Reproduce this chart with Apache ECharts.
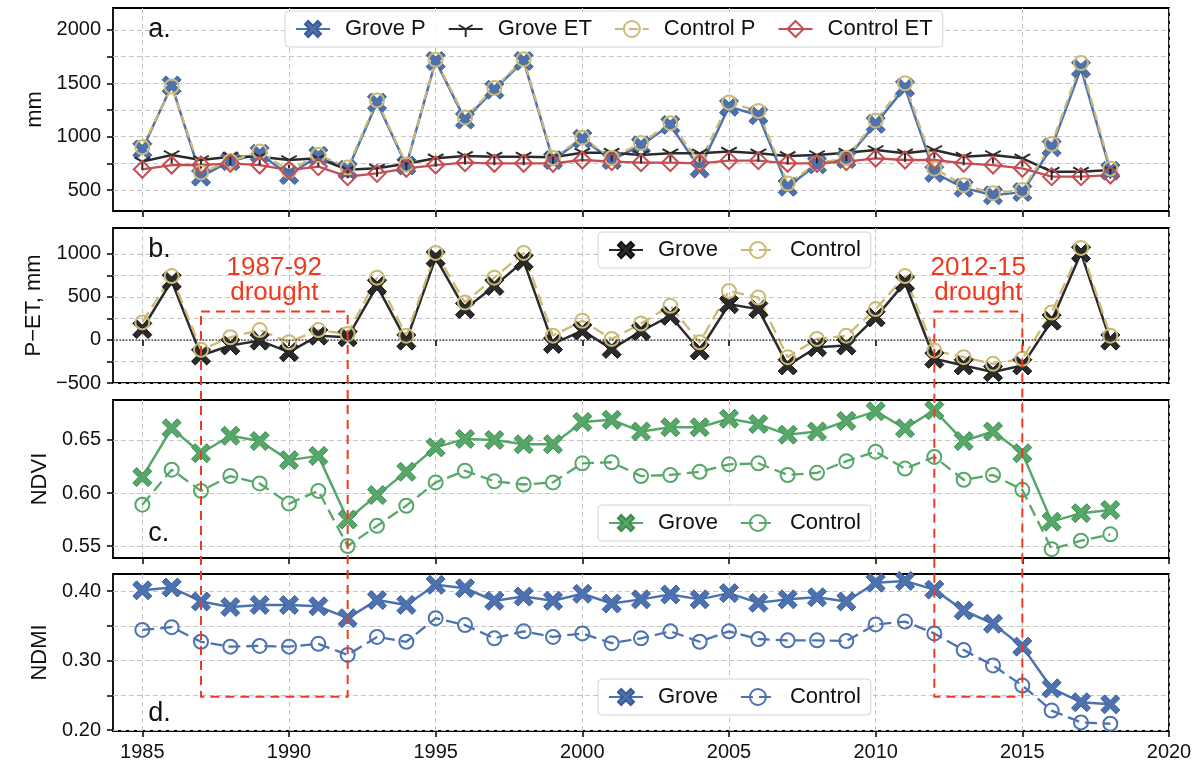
<!DOCTYPE html>
<html><head><meta charset="utf-8">
<script src="https://cdn.jsdelivr.net/npm/echarts@6/dist/echarts.min.js"></script>
<style>html,body{margin:0;padding:0;background:#fff}#c{width:1204px;height:772px}</style>
</head><body><div id="c"></div>
<script>
// ---------------- data ----------------
const years = [1985,1986,1987,1988,1989,1990,1991,1992,1993,1994,1995,1996,1997,1998,1999,2000,2001,2002,2003,2004,2005,2006,2007,2008,2009,2010,2011,2012,2013,2014,2015,2016,2017,2018];
const groveP   = [880,1480,625,770,840,640,820,690,1320,730,1710,1160,1440,1710,780,980,780,920,1110,700,1280,1200,530,740,790,1120,1460,660,520,450,480,900,1640,680];
const groveET  = [766,828,781,812,812,781,797,690,703,745,797,819,812,812,806,850,850,828,844,844,860,844,819,828,850,875,844,875,812,828,797,672,672,687];
const controlP = [900,1470,665,770,860,680,830,710,1340,740,1720,1180,1455,1725,800,990,800,940,1125,760,1320,1240,560,750,800,1150,1500,700,545,470,500,930,1690,700];
const controlET= [694,734,734,750,734,687,719,625,656,703,734,756,750,750,750,781,766,756,756,750,775,775,750,750,766,797,781,781,750,734,703,625,625,640];
const groveDiff   = [127,685,-181,-65,-8,-142,50,31,627,-8,954,358,627,915,-46,108,-104,100,281,-123,415,358,-296,-85,-65,262,665,-219,-296,-373,-296,223,1011,-8];
const controlDiff = [204,742,-115,31,115,-27,115,69,723,50,1011,435,723,1011,50,223,12,190,396,-27,569,492,-200,12,50,358,742,-123,-200,-277,-219,319,1069,50];
const groveNDVI   = [0.615,0.661,0.6375,0.654,0.649,0.631,0.635,0.575,0.598,0.620,0.643,0.651,0.650,0.646,0.646,0.667,0.669,0.658,0.662,0.662,0.670,0.665,0.655,0.658,0.668,0.677,0.661,0.678,0.649,0.658,0.6375,0.573,0.581,0.584];
const controlNDVI = [0.589,0.622,0.602,0.616,0.609,0.590,0.602,0.550,0.569,0.588,0.610,0.621,0.611,0.608,0.610,0.628,0.629,0.616,0.617,0.620,0.627,0.628,0.617,0.619,0.630,0.639,0.623,0.634,0.6125,0.617,0.603,0.547,0.555,0.561];
const groveNDMI   = [0.401,0.405,0.385,0.377,0.380,0.380,0.378,0.361,0.387,0.380,0.409,0.404,0.386,0.392,0.386,0.396,0.382,0.388,0.395,0.388,0.397,0.383,0.388,0.391,0.385,0.412,0.4145,0.402,0.372,0.353,0.320,0.260,0.240,0.237];
const controlNDMI = [0.344,0.348,0.327,0.320,0.321,0.320,0.324,0.308,0.334,0.327,0.361,0.351,0.332,0.342,0.334,0.339,0.325,0.332,0.342,0.327,0.342,0.331,0.329,0.329,0.328,0.352,0.356,0.339,0.315,0.293,0.264,0.228,0.211,0.209];

const xTicks = [1985,1990,1995,2000,2005,2010,2015,2020];
const aTicks = [500,750,1000,1250,1500,1750,2000];
const aLabels = [500,1000,1500,2000];
const bTicks = [-500,-250,0,250,500,750,1000];
const bLabels = [-500,0,500,1000];
const cTicks = [0.55,0.60,0.65];
const dTicks = [0.20,0.25,0.30,0.35,0.40];
const dLabels = [0.20,0.30,0.40];

const droughtStart = [1987,2012];
const droughtEnd = [1992,2015];
const droughtLabels = ['1987-92\ndrought','2012-15\ndrought'];
const panelLabels = ['a.','b.','c.','d.'];

// ---------------- style ----------------
const FONT = '"Liberation Sans", Arial, sans-serif';
const BLUE='#4C72B0', GREEN='#55A868', RED='#C44E52', KHAKI='#CCB974', DARK='#2b2b2b', ORANGE='#F03A1E';
const SYM_X = 'path://M2,0 L5,3 L8,0 L10,2 L7,5 L10,8 L8,10 L5,7 L2,10 L0,8 L3,5 L0,2 Z';
const SYM_TRI = 'path://M0,0 M10,10 M5,5 L5,10 M5,5 L0.67,2.5 M5,5 L9.33,2.5';
const pairs = arr => years.map((y,i)=>[y,arr[i]]);

const gridsPx = [
  {top:8, height:203},
  {top:228, height:155},
  {top:400, height:158},
  {top:574, height:157}
];
const grid = gridsPx.map(g=>({left:113, width:1056, top:g.top, height:g.height, show:true, borderColor:'#000', borderWidth:1.8, backgroundColor:'transparent'}));

const gridLine = {show:true, lineStyle:{color:'#c4c4c4', type:[5,3], width:1}};
const xAxis = [0,1,2,3].map(i=>({
  type:'value', gridIndex:i, min:1984, max:2020,
  axisLine:{show:false},
  axisTick:{show:true, customValues:xTicks, length:6, lineStyle:{color:'#000', width:1.5}},
  axisLabel:{show:i===3, customValues:xTicks, formatter:v=>String(v), fontSize:20, color:'#111', margin:11, fontFamily:FONT},
  splitLine:gridLine
}));

function yAx(i, min, max, name, ticks, labels, fmt){
  return {type:'value', gridIndex:i, min, max, name, nameLocation:'middle', nameGap:53,
    nameTextStyle:{fontSize:22, color:'#111', fontFamily:FONT},
    axisLine:{show:false},
    axisTick:{show:true, customValues:ticks, length:6, lineStyle:{color:'#000', width:1.5}},
    axisLabel:{customValues:labels, formatter:fmt, fontSize:20, color:'#111', margin:12, fontFamily:FONT},
    splitLine:gridLine};
}
const yAxis = [
  yAx(0, 303, 2206, 'mm', aTicks, aLabels, v=>String(v)),
  yAx(1, -500, 1300, 'P\u2212ET, mm', bTicks, bLabels, v=>String(v).replace('-','\u2212')),
  yAx(2, 0.5387, 0.6877, 'NDVI', cTicks, cTicks, v=>v.toFixed(2)),
  yAx(3, 0.1986, 0.4245, 'NDMI', dTicks, dLabels, v=>v.toFixed(2))
];

function filled(name, idx, arr, color, edge){
  return {type:'line', name, xAxisIndex:idx, yAxisIndex:idx, data:pairs(arr),
    symbol:SYM_X, symbolSize:19, showSymbol:true,
    lineStyle:{color, width:2.5}, itemStyle:{color, borderColor:edge, borderWidth:1}};
}
function hollow(name, idx, arr, color, symbol, size, dash){
  return {type:'line', name, xAxisIndex:idx, yAxisIndex:idx, data:pairs(arr),
    symbol, symbolSize:size, showSymbol:true,
    lineStyle:{color, width:2.3, type:dash},
    itemStyle:{color:'rgba(255,255,255,0)', borderColor:color, borderWidth:2}};
}

const series = [
  filled('Grove P', 0, groveP, BLUE, '#3a5d99'),
  {type:'line', name:'Grove ET', xAxisIndex:0, yAxisIndex:0, data:pairs(groveET),
    symbol:SYM_TRI, symbolSize:[18,17], showSymbol:true,
    lineStyle:{color:DARK, width:2.5}, itemStyle:{color:'rgba(0,0,0,0)', borderColor:DARK, borderWidth:2}},
  hollow('Control P', 0, controlP, KHAKI, 'circle', 14, [9,5]),
  hollow('Control ET', 0, controlET, RED, 'diamond', 17, 'solid'),

  Object.assign(filled('Grove', 1, groveDiff, DARK, '#111'), {
    markLine:{silent:true, symbol:'none', label:{show:false}, lineStyle:{color:'#444', type:'dotted', width:1.6}, data:[{yAxis:0}]}
  }),
  hollow('Control', 1, controlDiff, KHAKI, 'circle', 14, [12,6]),

  filled('Grove ', 2, groveNDVI, GREEN, '#3f8a52'),
  hollow('Control ', 2, controlNDVI, GREEN, 'circle', 14, [12,6]),

  filled('Grove  ', 3, groveNDMI, BLUE, '#3a5d99'),
  hollow('Control  ', 3, controlNDMI, BLUE, 'circle', 14, [12,6])
];

function legend(left, top, data){
  return {left, top, data, orient:'horizontal', itemWidth:34, itemHeight:20, itemGap:22,
    padding:[7,10], backgroundColor:'rgba(255,255,255,0.88)', borderColor:'#d4d4d4', borderWidth:1, borderRadius:4,
    formatter:n=>n.trim(), selectedMode:false,
    textStyle:{fontSize:22, color:'#111', fontFamily:FONT, padding:[0,0,0,10]}};
}
const legends = [
  legend(285, 11, ['Grove P','Grove ET','Control P','Control ET']),
  legend(598, 232, ['Grove','Control']),
  legend(598, 505, ['Grove ','Control ']),
  legend(598, 679, ['Grove  ','Control  '])
];

const chart = echarts.init(document.getElementById('c'), null, {renderer:'canvas'});
chart.setOption({
  animation:false, backgroundColor:'#fff',
  textStyle:{fontFamily:FONT},
  grid, xAxis, yAxis, series, legend:legends
});

// annotations positioned through the chart's own scales
const boxTop = 329, boxBottom = 0.248, textVal = 690;
const els = [];
droughtStart.forEach((s,k)=>{
  const p1 = chart.convertToPixel({gridIndex:1}, [s, boxTop]);
  const p2 = chart.convertToPixel({gridIndex:3}, [droughtEnd[k], boxBottom]);
  els.push({type:'rect', silent:true, z:100,
    shape:{x:p1[0], y:p1[1], width:p2[0]-p1[0], height:p2[1]-p1[1]},
    style:{fill:'none', stroke:ORANGE, lineWidth:2, lineDash:[9,6]}});
  const pt = chart.convertToPixel({gridIndex:1}, [(s+droughtEnd[k])/2, textVal]);
  els.push({type:'text', silent:true, z:100, x:pt[0], y:pt[1],
    style:{text:droughtLabels[k], fill:ORANGE, fontSize:26, lineHeight:25, fontFamily:FONT, align:'center', verticalAlign:'middle'}});
});
const labelPos = [[1985.2, 2005],[1985.2, 1050],[1985.2, 0.562],[1985.2, 0.2237]];
labelPos.forEach((p,i)=>{
  const q = chart.convertToPixel({gridIndex:i}, p);
  els.push({type:'text', silent:true, z:100, x:q[0], y:q[1],
    style:{text:panelLabels[i], fill:'#111', fontSize:27, fontFamily:FONT, align:'left', verticalAlign:'middle'}});
});
chart.setOption({graphic:els});
</script>
</body></html>
